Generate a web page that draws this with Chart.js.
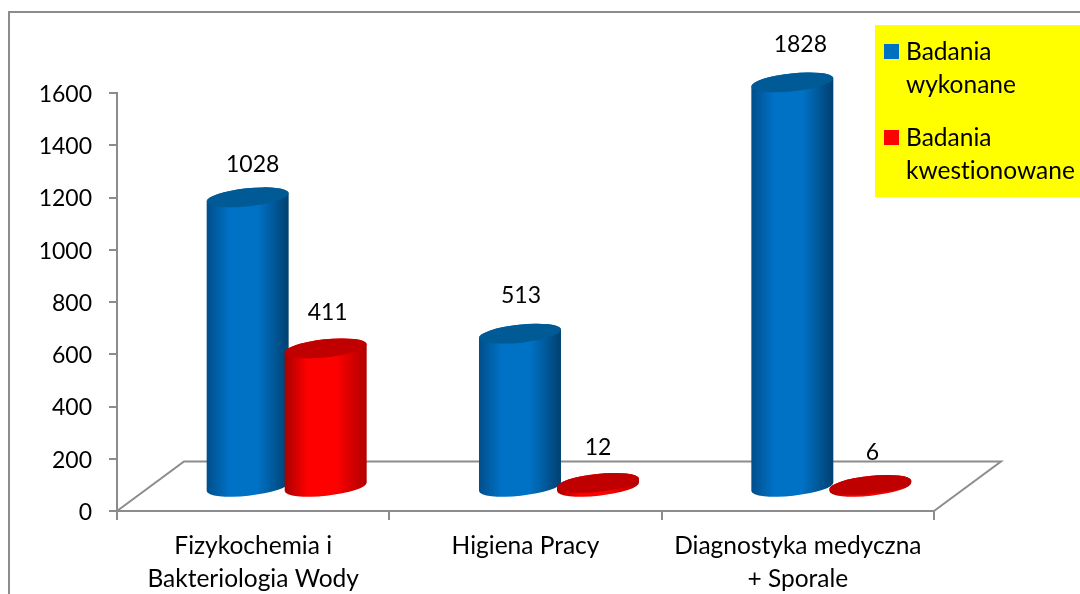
<!DOCTYPE html>
<html lang="pl">
<head>
<meta charset="utf-8">
<title>Badania wykonane i kwestionowane</title>
<script src="https://cdn.jsdelivr.net/npm/chart.js@4"></script>
<style>
    html, body { margin: 0; padding: 0; background: #ffffff; }
    canvas { display: block; }
</style>
</head>
<body>
<canvas id="chartBadania" width="1080" height="594"></canvas>
<script>
// =====================================================
// Wykres "cylindry 3D" - Badania wykonane / kwestionowane
// =====================================================

const kategorie = [
    ['Fizykochemia i', 'Bakteriologia Wody'],
    'Higiena Pracy',
    ['Diagnostyka medyczna', '+ Sporale']
];
const yTicks = [0, 200, 400, 600, 800, 1000, 1200, 1400, 1600];

// bar heights as read against the axis (they don't agree with the printed numbers)
const wykonane = [1106, 584, 1546];
const kwestionowane = [528, 13, 5];

// numbers printed above the bars
const etykietyWykonane = ['1028', '513', '1828'];
const etykietyKwestionowane = ['411', '12', '6'];

const FONT_NUM = '23px Lato';
const FONT_TXT = '24.5px Lato';
const GRAY = '#8c8c8c';
const DEPTH_X = 67;
const DEPTH_Y = 49.5;

const wygladSerii = [
    { edgeL: '#004e8a', mid: '#0072c6', edgeR: '#00406f', top: '#005a96', legend: '#0070c0' },
    { edgeL: '#a80000', mid: '#ff0000', edgeR: '#b00000', top: '#c00000', legend: '#ff0000' }
];

const ramka = {
    id: 'ramka',
    beforeDraw(chart) {
        const c = chart.ctx;
        c.save();
        c.fillStyle = '#ffffff';
        c.fillRect(0, 0, chart.width, chart.height);
        c.strokeStyle = GRAY;
        c.lineWidth = 2;
        c.beginPath();
        c.moveTo(9, chart.height);
        c.lineTo(9, 12);
        c.lineTo(chart.width, 12);
        c.stroke();
        c.restore();
    },
    // floor of the 3D plot, only the back and side edges
    beforeDatasetsDraw(chart) {
        const { left, right, bottom } = chart.chartArea;
        const c = chart.ctx;
        c.save();
        c.strokeStyle = GRAY;
        c.lineWidth = 2;
        c.beginPath();
        c.moveTo(left, bottom);
        c.lineTo(left + DEPTH_X, bottom - DEPTH_Y);
        c.lineTo(right + DEPTH_X, bottom - DEPTH_Y);
        c.lineTo(right, bottom);
        c.stroke();
        c.restore();
    }
};

function rysujCylinder(c, bar, styl) {
    const cx = bar.x + DEPTH_X / 2;
    const topY = bar.y - DEPTH_Y / 2;
    const baseY = bar.base - DEPTH_Y / 2 + 1.5;
    const a = bar.width / 2 + 2.2;
    const b = 9;
    const rot = -6 * Math.PI / 180;

    const gradient = c.createLinearGradient(cx - a, 0, cx + a, 0);
    gradient.addColorStop(0, styl.edgeL);
    gradient.addColorStop(0.28, styl.mid);
    gradient.addColorStop(0.62, styl.mid);
    gradient.addColorStop(1, styl.edgeR);

    c.fillStyle = gradient;
    c.beginPath();
    c.ellipse(cx, baseY, a, b, rot, Math.PI, 0, true);
    c.ellipse(cx, topY, a, b, rot, 0, Math.PI, true);
    c.closePath();
    c.fill();

    c.fillStyle = styl.top;
    c.beginPath();
    c.ellipse(cx, topY, a, b, rot, 0, Math.PI * 2);
    c.fill();
}

const cylindry = {
    id: 'cylindry',
    // bars are replaced by cylinders, they still come from the bar elements
    beforeDatasetDraw() {
        return false;
    },
    afterDatasetsDraw(chart, args, opts) {
        const c = chart.ctx;
        c.save();
        chart.data.datasets.forEach(function(ds, i) {
            chart.getDatasetMeta(i).data.forEach(function(bar) {
                rysujCylinder(c, bar, wygladSerii[i]);
            });
        });
        c.font = FONT_NUM;
        c.fillStyle = '#000000';
        c.textAlign = 'center';
        c.textBaseline = 'middle';
        chart.data.datasets.forEach(function(ds, i) {
            chart.getDatasetMeta(i).data.forEach(function(bar, j) {
                const n = opts.nudge[i][j];
                c.fillText(ds.printed[j], bar.x + DEPTH_X / 2 + n[0], bar.y - DEPTH_Y / 2 + n[1]);
            });
        });
        c.restore();
    }
};

const legendaBoczna = {
    id: 'legendaBoczna',
    afterDraw(chart) {
        const c = chart.ctx;
        c.save();
        c.fillStyle = '#ffff00';
        c.fillRect(875, 25, 205, 172);
        c.font = FONT_TXT;
        c.textAlign = 'left';
        c.textBaseline = 'middle';
        c.textRendering = 'optimizeSpeed';
        chart.data.datasets.forEach(function(ds, i) {
            const y = 51 + i * 86;
            c.fillStyle = wygladSerii[i].legend;
            c.fillRect(884, y - 7, 15, 15);
            c.fillStyle = '#000000';
            ds.label.split(' ').forEach(function(word, k) {
                c.fillText(word, 906, y + 1 + k * 33);
            });
        });
        c.restore();
    }
};

const ctx = document.getElementById('chartBadania').getContext('2d');

new Chart(ctx, {
    type: 'bar',
    data: {
        labels: kategorie,
        datasets: [
            { label: 'Badania wykonane', data: wykonane, printed: etykietyWykonane, backgroundColor: '#0070c0' },
            { label: 'Badania kwestionowane', data: kwestionowane, printed: etykietyKwestionowane, backgroundColor: '#ff0000' }
        ]
    },
    plugins: [ramka, cylindry, legendaBoczna],
    options: {
        responsive: false,
        animation: false,
        categoryPercentage: 0.573,
        barPercentage: 1,
        layout: { padding: { left: 0, top: 93, right: 146, bottom: 0 } },
        plugins: {
            legend: { display: false },
            title: { display: false },
            tooltip: { enabled: false },
            cylindry: {
                nudge: [
                    [[5, -33], [1, -38], [8, -38]],
                    [[2, -36], [0, -35], [2, -32]]
                ]
            }
        },
        scales: {
            x: {
                afterFit(scale) { scale.height = 83; },
                border: { color: GRAY, width: 2 },
                grid: { drawOnChartArea: false, color: GRAY, lineWidth: 2, tickLength: 9, offset: true },
                ticks: {
                    color: '#000000',
                    padding: 10,
                    maxRotation: 0,
                    autoSkip: false,
                    font: { family: 'Lato', size: 24.5, lineHeight: 1.347 }
                }
            },
            y: {
                min: 0,
                max: 1600,
                afterFit(scale) { scale.width = 117; },
                afterBuildTicks(scale) { scale.ticks = yTicks.map(function(v) { return { value: v }; }); },
                border: { color: GRAY, width: 2 },
                grid: { drawOnChartArea: false, color: GRAY, lineWidth: 2, tickLength: 8 },
                ticks: {
                    color: '#000000',
                    padding: 17,
                    labelOffset: 1.5,
                    font: { family: 'Lato', size: 23 },
                    callback: function(value) { return String(value); }
                }
            }
        }
    }
});
</script>
</body>
</html>
